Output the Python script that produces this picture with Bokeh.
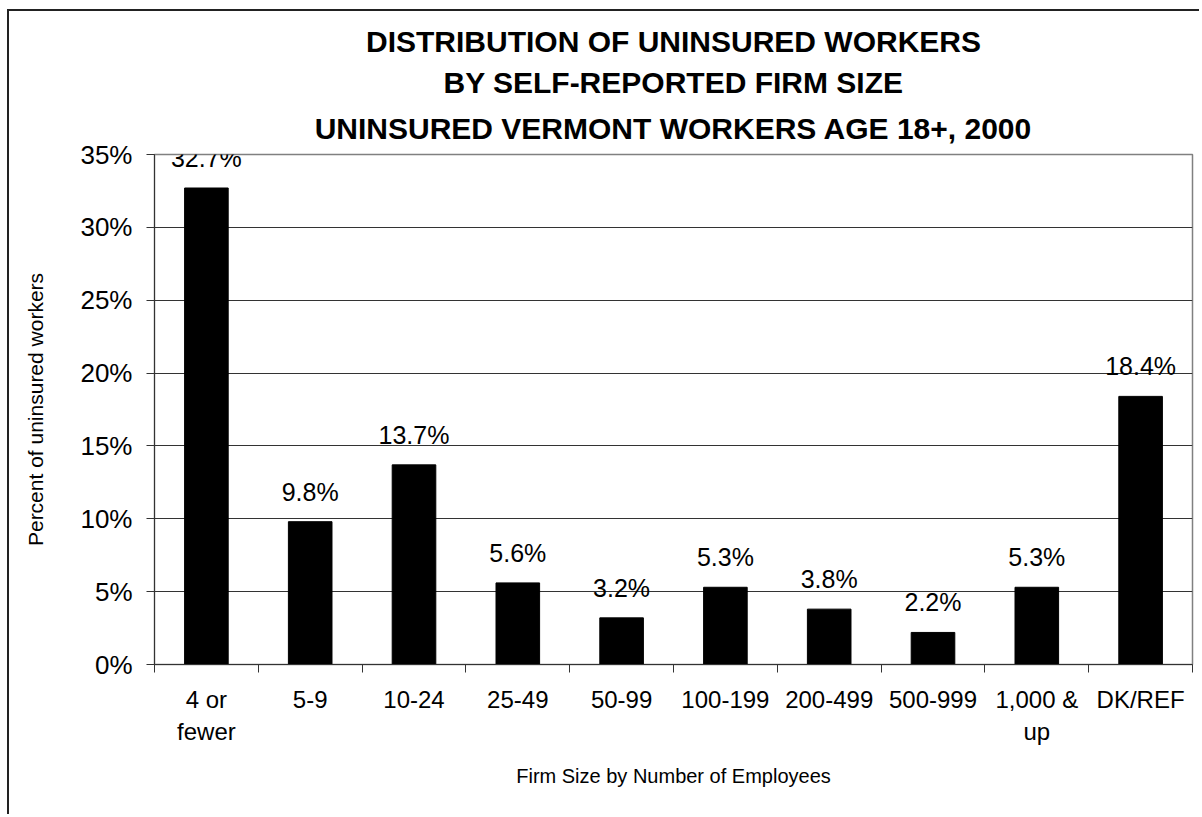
from bokeh.plotting import figure
from bokeh.models import ColumnDataSource, FixedTicker, PrintfTickFormatter, Range1d, Title
from bokeh.embed import file_html
from bokeh.resources import INLINE

categories = ["4 or\nfewer", "5-9", "10-24", "25-49", "50-99", "100-199",
              "200-499", "500-999", "1,000 &\nup", "DK/REF"]
values = [32.7, 9.8, 13.7, 5.6, 3.2, 5.3, 3.8, 2.2, 5.3, 18.4]
value_labels = ["32.7%", "9.8%", "13.7%", "5.6%", "3.2%", "5.3%", "3.8%", "2.2%", "5.3%", "18.4%"]
y_ticks = [0, 5, 10, 15, 20, 25, 30, 35]

title_lines = ["DISTRIBUTION OF UNINSURED WORKERS",
               "BY SELF-REPORTED FIRM SIZE",
               "UNINSURED VERMONT WORKERS AGE 18+, 2000"]

FONT = "Liberation Sans"

centers = [i + 0.5 for i in range(len(categories))]
source = ColumnDataSource(dict(x=centers, top=values, label=value_labels))

p = figure(width=1192, height=805, output_backend="svg", toolbar_location=None,
           x_range=Range1d(0, len(categories)), y_range=Range1d(0, 35),
           min_border_left=145, min_border_top=143, min_border_right=9,
           min_border_bottom=152,
           styles={"margin-left": "7px", "margin-top": "9px",
                   "border-top": "2px solid #222", "border-left": "2px solid #222"})

# title: three centred lines
def style_title(t, standoff):
    t.align = "center"
    t.text_font = FONT
    t.text_font_size = "30px"
    t.text_font_style = "bold"
    t.text_color = "black"
    t.offset = 0
    t.standoff = standoff

p.title.text = title_lines[0]
style_title(p.title, 8)
t3 = Title(text=title_lines[2])
style_title(t3, 19)
p.add_layout(t3, "above")
t2 = Title(text=title_lines[1])
style_title(t2, 4)
p.add_layout(t2, "above")

p.vbar(x="x", top="top", width=0.42, source=source,
       fill_color="black", line_color="black")

p.text(x="x", y="top", text="label", source=source,
       text_align="center", text_baseline="bottom", y_offset=-16,
       text_font={"value": FONT}, text_font_size="25px", text_color="black")

# x axis: labels at centers, tick marks at category boundaries
xa = p.xaxis[0]
xa.ticker = FixedTicker(ticks=centers, minor_ticks=list(range(len(categories) + 1)))
xa.major_label_overrides = {c: lab for c, lab in zip(centers, categories)}
xa.major_tick_line_color = None
xa.major_tick_out = 0
xa.major_tick_in = 0
xa.minor_tick_out = 8
xa.minor_tick_in = 0
xa.minor_tick_line_color = "#333333"
xa.axis_line_color = "#333333"
xa.major_label_standoff = 13
xa.major_label_text_font = FONT
xa.major_label_text_font_size = "24px"
xa.major_label_text_color = "black"
xa.major_label_text_line_height = 1.2
xa.axis_label = "Firm Size by Number of Employees"
xa.axis_label_text_font = FONT
xa.axis_label_text_font_size = "20px"
xa.axis_label_text_font_style = "normal"
xa.axis_label_text_color = "black"
xa.axis_label_standoff = 17

ya = p.yaxis[0]
ya.ticker = FixedTicker(ticks=y_ticks)
ya.formatter = PrintfTickFormatter(format="%d%%")
ya.major_tick_out = 8
ya.major_tick_in = 0
ya.minor_tick_line_color = None
ya.major_tick_line_color = "#333333"
ya.axis_line_color = "#333333"
ya.major_label_standoff = 14
ya.major_label_text_font = FONT
ya.major_label_text_font_size = "26px"
ya.major_label_text_color = "black"
ya.axis_label = "Percent of uninsured workers"
ya.axis_label_text_font = FONT
ya.axis_label_text_font_size = "21px"
ya.axis_label_text_font_style = "normal"
ya.axis_label_text_color = "black"
ya.axis_label_standoff = 30

p.xgrid.grid_line_color = None
p.ygrid.ticker = FixedTicker(ticks=y_ticks)
p.ygrid.grid_line_color = "#333333"
p.ygrid.grid_line_width = 1

p.outline_line_color = "#808080"
p.outline_line_width = 1.5

open("out.html", "w").write(file_html(p, INLINE))
